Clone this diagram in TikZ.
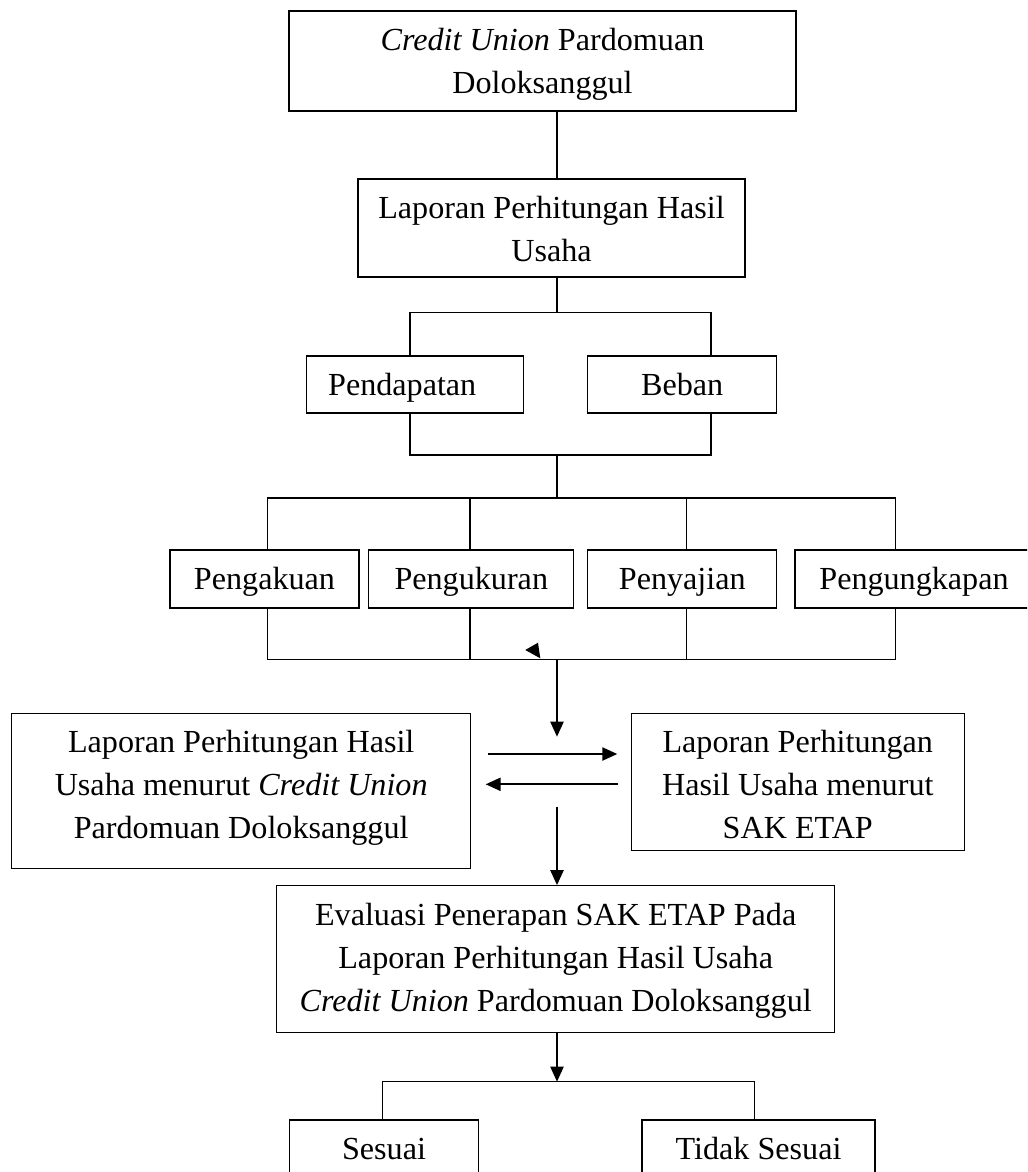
\documentclass[tikz,border=0pt]{standalone}
\usepackage{fontspec}
\setmainfont{Liberation Serif}
\usetikzlibrary{arrows.meta}
\newcommand\tl{\rule{0pt}{16.6pt}}
\newcommand\bl[1]{\rule[-#1pt]{0pt}{#1pt}}
\tikzset{
  box/.style={draw, line width=0.55pt, inner sep=0pt, align=center, font=\fontsize{13.5}{18}\selectfont},
  wh/.style 2 args={minimum width=#1*0.42pt, minimum height=#2*0.42pt},
  arr/.style={line width=0.85pt, -{Triangle[length=6.3pt,width=5.5pt]}}
}
\begin{document}
\begin{tikzpicture}[x=0.42pt, y=-0.42pt, line width=0.55pt]
\clip (0,0) rectangle (1027,1172);
\node[box, wh={507}{100}] (cu) at (542.5,61) {\tl\textit{Credit Union} Pardomuan\\Doloksanggul\bl{7.35}};
\node[box, wh={387}{98}] (lphu) at (551.5,228) {\tl Laporan Perhitungan Hasil\\Usaha\bl{6.5}};
\node[box, wh={217}{57}] (pdp) at (415.3,384.4) {\tl Pendapatan\hspace*{11pt}\bl{7.35}};
\node[box, wh={189}{57}] (beban) at (682.2,384.4) {\tl Beban\bl{7.35}};
\node[box, wh={189}{58}] (pgk) at (264.5,579) {\tl Pengakuan\bl{7.8}};
\node[box, wh={205}{58}] (pgu) at (471.3,579) {\tl Pengukuran\bl{7.8}};
\node[box, wh={189}{58}] (pys) at (682.3,579) {\tl Penyajian\bl{7.8}};
\node[box, wh={238}{58}] (pgp) at (914,579) {\tl Pengungkapan\bl{7.8}};
\node[box, wh={459}{155}] (lcu) at (241.2,790.8) {\tl Laporan Perhitungan Hasil\\Usaha menurut \textit{Credit Union}\\Pardomuan Doloksanggul\bl{12.4}};
\node[box, wh={333}{137}] (lsak) at (797.8,782) {\tl Laporan Perhitungan\\Hasil Usaha menurut\\SAK ETAP\bl{5}};
\node[box, wh={558}{147}] (eval) at (555.7,959.3) {\tl Evaluasi Penerapan SAK ETAP Pada\\Laporan Perhitungan Hasil Usaha\\\textit{Credit Union} Pardomuan Doloksanggul\bl{8.9}};
\node[box, wh={189}{58}] (ses) at (384,1149) {\tl Sesuai\bl{7.8}};
\node[box, wh={233}{58}] (tds) at (758.6,1149) {\tl Tidak Sesuai\bl{7.8}};
\coordinate (xa) at (410,0);
\coordinate (xb) at (711,0);
\coordinate (xc) at (267.7,0);
\coordinate (xd) at (470,0);
\coordinate (xe) at (686.3,0);
\coordinate (xf) at (895.3,0);
\coordinate (xs) at (382.6,0);
\coordinate (xt) at (754.3,0);
\coordinate (ya) at (0,754);
\coordinate (yb) at (0,784.3);
\coordinate (j1) at (557,312.7);
\coordinate (j2) at (557,455);
\coordinate (j3) at (557,498);
\coordinate (j4) at (557,659.3);
\coordinate (m1) at (557,736.7);
\coordinate (m2) at (557,806.7);
\coordinate (j5) at (557,1081.7);
\draw (cu.south -| j1) -- (lphu.north -| j1);
\draw (lphu.south -| j1) -- (j1);
\draw (pdp.north -| xa) |- (j1) -| (beban.north -| xb);
\draw (pdp.south -| xa) |- (j2) -| (beban.south -| xb);
\draw (j2) -- (j3);
\draw (pgk.north -| xc) |- (j3) -| (pgp.north -| xf);
\draw (j3 -| xd) -- (pgu.north -| xd);
\draw (j3 -| xe) -- (pys.north -| xe);
\draw (pgk.south -| xc) |- (j4) -| (pgp.south -| xf);
\draw (pgu.south -| xd) -- (j4 -| xd);
\draw (pys.south -| xe) -- (j4 -| xe);
\fill (525.3,650) -- (538,642.7) -- (540.3,658.3) -- cycle;
\draw[arr] (j4) -- (m1);
\draw[arr, shorten <=6.8pt, shorten >=5.6pt] (lcu.east |- ya) -- (lsak.west |- ya);
\draw[arr, shorten <=5.3pt, shorten >=6pt] (lsak.west |- yb) -- (lcu.east |- yb);
\draw[arr] (m2) -- (eval.north -| m2);
\draw[arr] (eval.south -| j5) -- (j5);
\draw (ses.north -| xs) |- (j5) -| (tds.north -| xt);
\end{tikzpicture}
\end{document}
